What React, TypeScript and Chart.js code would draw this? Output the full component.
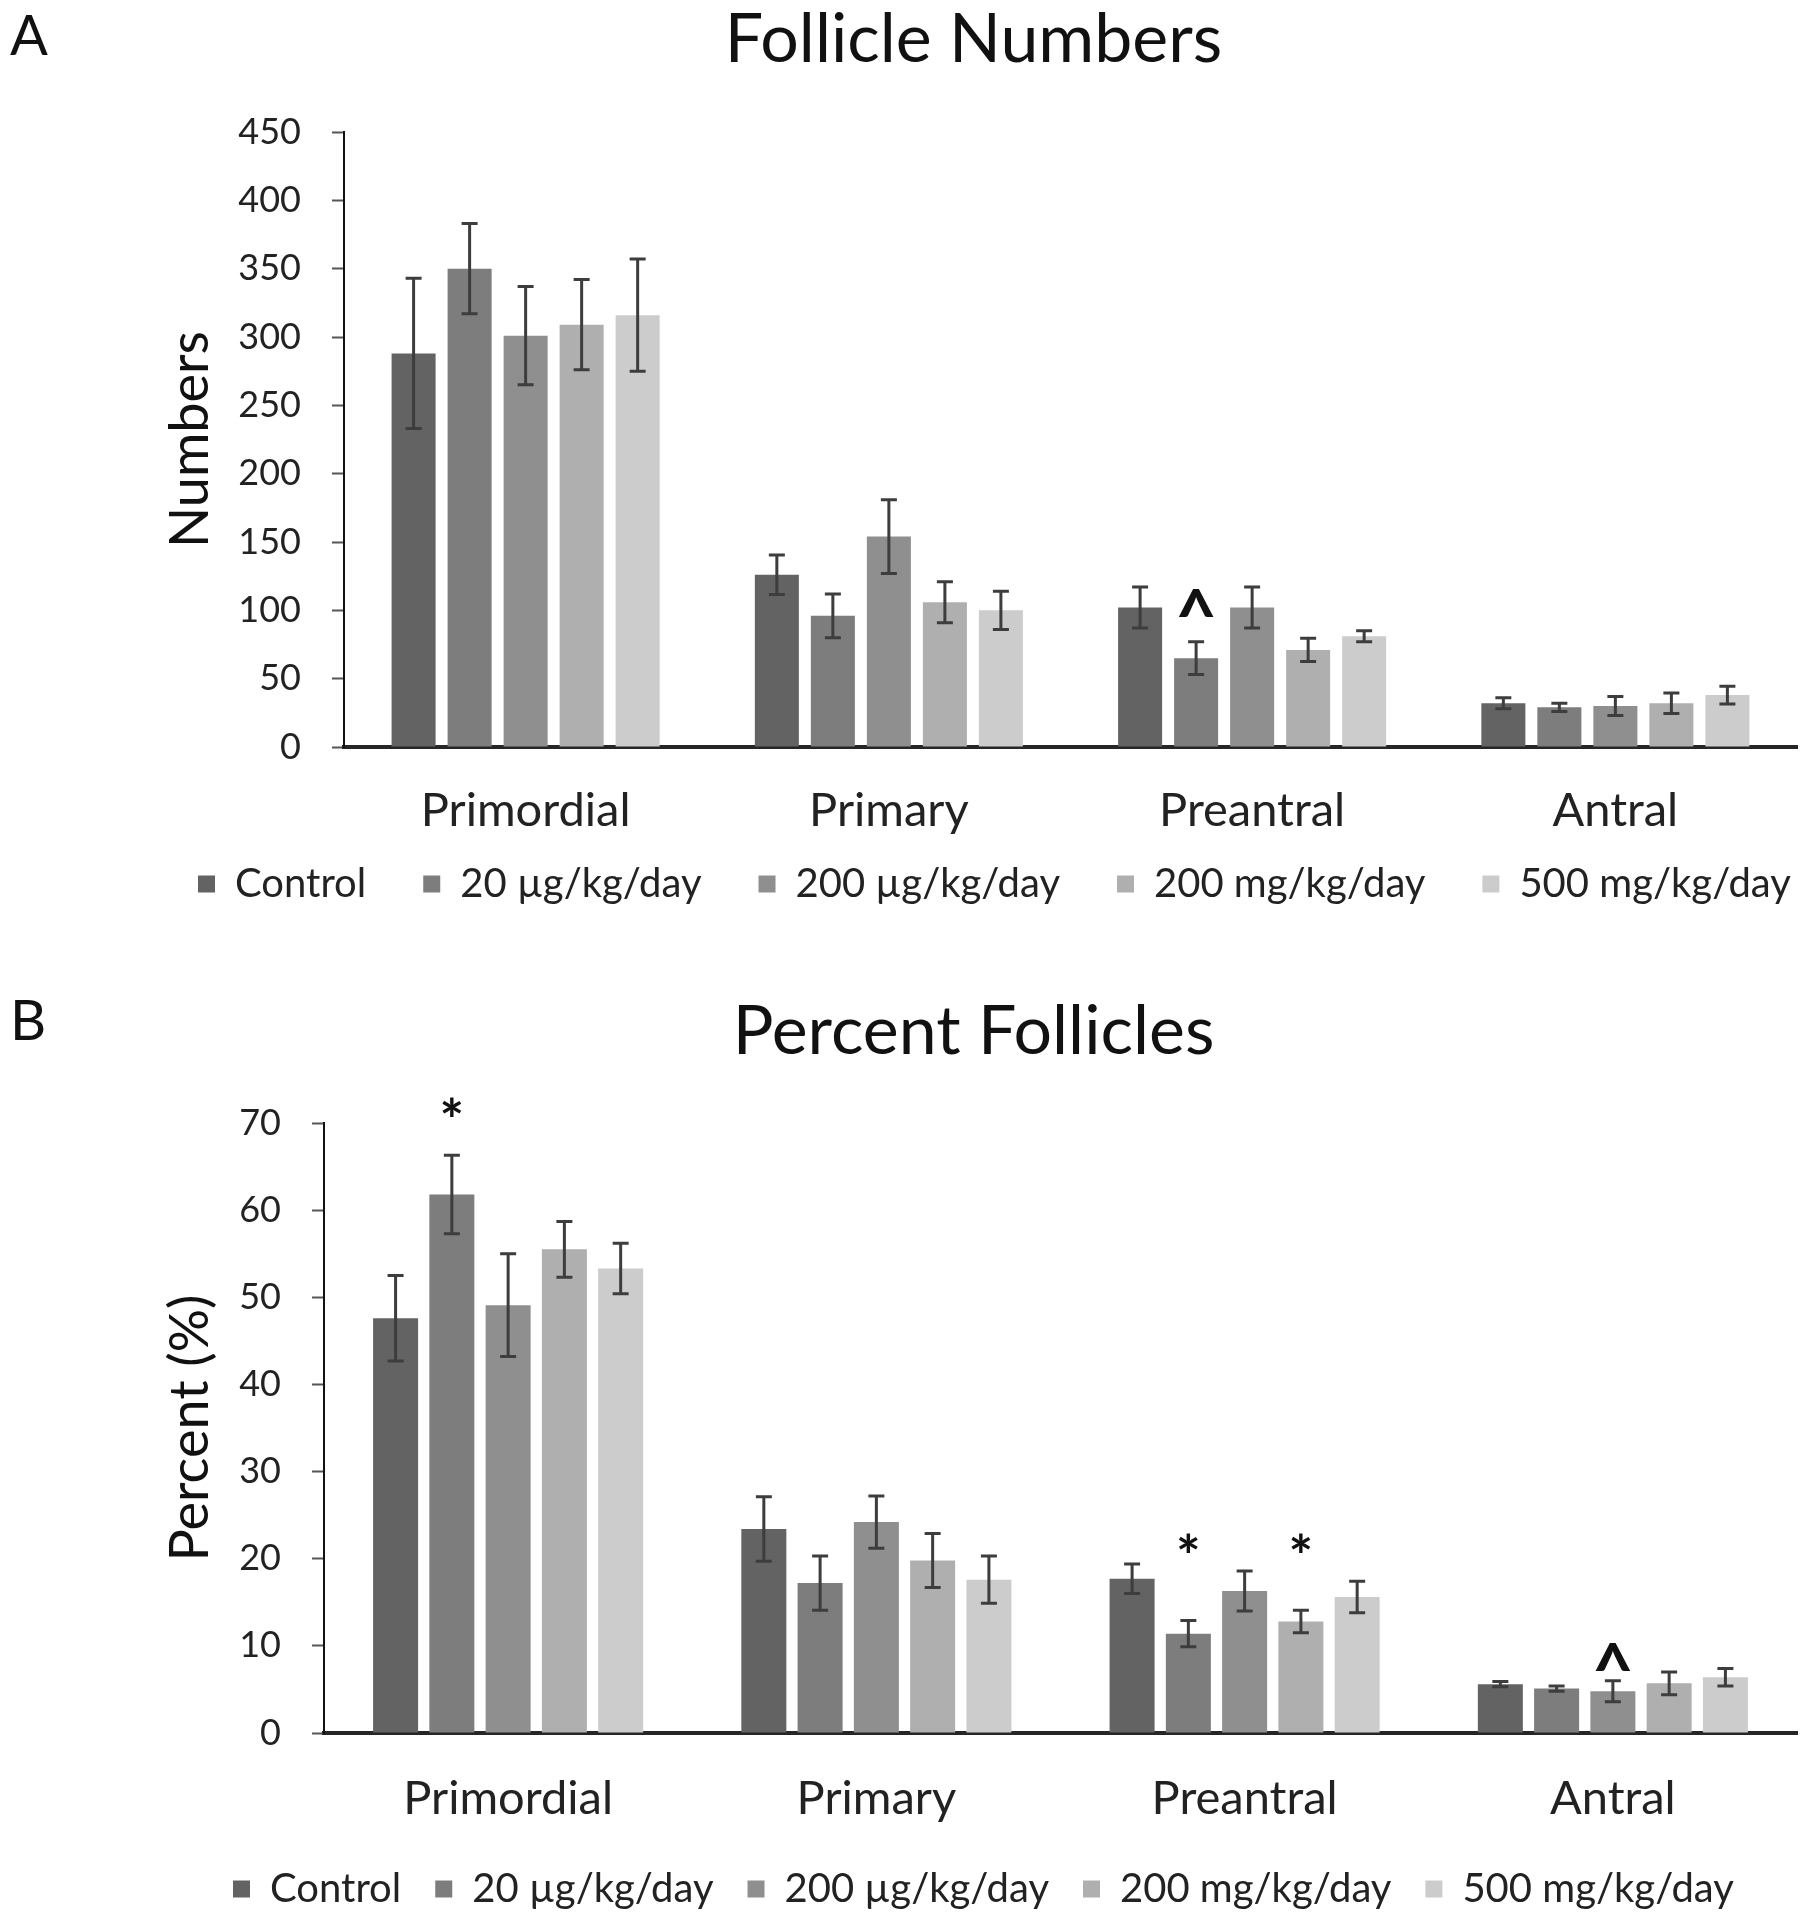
import React, { useEffect, useRef } from 'react';
import { Chart, registerables } from 'chart.js';

Chart.register(...registerables);

const FONT = 'Lato, "Liberation Sans", sans-serif';

// ---------- data ----------
const categories = ['Primordial', 'Primary', 'Preantral', 'Antral'];
const groups = ['Control', '20 µg/kg/day', '200 µg/kg/day', '200 mg/kg/day', '500 mg/kg/day'];
const groupColors = ['#636363', '#7d7d7d', '#8f8f8f', '#afafaf', '#cccccc'];

// Panel A – Follicle Numbers
const numbersTicks = [0, 50, 100, 150, 200, 250, 300, 350, 400, 450];
const numbersControl = [288, 126, 102, 32];
const numbers20ug = [350, 96, 65, 29];
const numbers200ug = [301, 154, 102, 30];
const numbers200mg = [309, 106, 71, 32];
const numbers500mg = [316, 100, 81, 38];
const numbersErrControl = [55, 14.5, 15, 4];
const numbersErr20ug = [33, 16, 12, 3];
const numbersErr200ug = [36, 27, 15, 7];
const numbersErr200mg = [33, 15, 8.5, 7.5];
const numbersErr500mg = [41, 14, 4, 6.5];
const numbersMarks = [{ category: 2, group: 1, symbol: '^', at: 104.6 }];

// Panel B – Percent Follicles
const percentTicks = [0, 10, 20, 30, 40, 50, 60, 70];
const percentControl = [47.6, 23.4, 17.7, 5.6];
const percent20ug = [61.8, 17.2, 11.4, 5.1];
const percent200ug = [49.1, 24.2, 16.3, 4.8];
const percent200mg = [55.5, 19.8, 12.8, 5.7];
const percent500mg = [53.3, 17.6, 15.6, 6.4];
const percentErrControl = [4.9, 3.7, 1.7, 0.3];
const percentErr20ug = [4.5, 3.1, 1.5, 0.3];
const percentErr200ug = [5.9, 3.0, 2.3, 1.2];
const percentErr200mg = [3.2, 3.1, 1.3, 1.3];
const percentErr500mg = [2.9, 2.7, 1.8, 1.0];
const percentMarks = [
  { category: 0, group: 1, symbol: '*', at: 71.3 },
  { category: 2, group: 1, symbol: '*', at: 21.2 },
  { category: 2, group: 3, symbol: '*', at: 21.2 },
  { category: 3, group: 2, symbol: '^', at: 8.6 },
];

// ---------- plugins ----------
const errorBarsPlugin = {
  id: 'errorBars',
  afterDatasetsDraw(chart: any, _args: any, opts: any) {
    const { ctx } = chart;
    const y = chart.scales.y;
    ctx.save();
    ctx.strokeStyle = opts.color;
    ctx.lineWidth = opts.width;
    chart.data.datasets.forEach((ds: any, di: number) => {
      const meta = chart.getDatasetMeta(di);
      meta.data.forEach((el: any, j: number) => {
        const v = ds.data[j];
        const e = ds.errors ? ds.errors[j] : 0;
        if (!e) return;
        const yt = y.getPixelForValue(v + e);
        const yb = y.getPixelForValue(v - e);
        const half = opts.cap / 2;
        ctx.beginPath();
        ctx.moveTo(el.x, yt);
        ctx.lineTo(el.x, yb);
        ctx.moveTo(el.x - half, yt);
        ctx.lineTo(el.x + half, yt);
        ctx.moveTo(el.x - half, yb);
        ctx.lineTo(el.x + half, yb);
        ctx.stroke();
      });
    });
    ctx.restore();
  },
};

const marksPlugin = {
  id: 'sigMarks',
  afterDatasetsDraw(chart: any, _args: any, opts: any) {
    const { ctx } = chart;
    const y = chart.scales.y;
    ctx.save();
    ctx.fillStyle = '#111';
    ctx.textAlign = 'center';
    ctx.textBaseline = 'middle';
    (opts.marks || []).forEach((m: any) => {
      const el = chart.getDatasetMeta(m.group).data[m.category];
      const size = m.symbol === '^' ? opts.caretSize : opts.starSize;
      ctx.font = `bold ${size}px ${FONT}`;
      const yy = y.getPixelForValue(m.at) + size * (m.symbol === '^' ? 0.2 : 0.18);
      ctx.fillText(m.symbol, el.x, yy);
    });
    ctx.restore();
  },
};

const panelLetterPlugin = {
  id: 'panelLetter',
  afterDraw(chart: any, _args: any, opts: any) {
    const { ctx } = chart;
    ctx.save();
    ctx.fillStyle = '#111';
    ctx.font = `${opts.size}px ${FONT}`;
    ctx.textAlign = 'left';
    ctx.textBaseline = 'alphabetic';
    ctx.fillText(opts.text, opts.x, opts.y);
    ctx.restore();
  },
};

// places legend & title boxes where the original figure has them
const placementPlugin = {
  id: 'placement',
  afterLayout(chart: any, _args: any, opts: any) {
    const lg = chart.legend;
    if (lg) {
      const pad = lg.options.labels.padding;
      const fs = lg.options.labels.font.size;
      const itemH = Math.max(fs, lg.options.labels.boxHeight || fs);
      const w = lg.right - lg.left;
      const h = lg.bottom - lg.top;
      lg.left = opts.legendX - pad;
      lg.right = lg.left + w;
      lg.top = opts.legendY - pad - itemH / 2;
      lg.bottom = lg.top + h;
    }
    const tb = chart.titleBlock;
    if (tb) {
      tb.left += opts.titleDx;
      tb.right += opts.titleDx;
    }
  },
};

// ---------- config ----------
type Panel = {
  letter: string;
  letterY: number;
  title: string;
  titlePad: { top: number; bottom: number };
  yTitle: string;
  yMax: number;
  yStep: number;
  yWidth: number;
  xHeight: number;
  xLabelPad: number;
  values: number[][];
  errors: number[][];
  marks: any[];
  legendX: number;
  legendY: number;
  legendPad: number;
  catPct: number;
  barPct: number;
};

function buildConfig(p: Panel): any {
  const datasets = groups.map((g, i) => ({
    label: g,
    data: p.values[i],
    errors: p.errors[i],
    backgroundColor: groupColors[i],
    borderWidth: 0,
    categoryPercentage: p.catPct,
    barPercentage: p.barPct,
  }));
  return {
    type: 'bar',
    data: { labels: categories, datasets },
    options: {
      responsive: false,
      animation: false,
      events: [],
      layout: { padding: { left: 0, right: 11, top: 0, bottom: 0 } },
      plugins: {
        tooltip: { enabled: false },
        title: {
          display: true,
          text: p.title,
          color: '#111',
          font: { family: FONT, size: 68, weight: 'normal', lineHeight: 1 },
          padding: p.titlePad,
        },
        legend: {
          position: 'bottom',
          align: 'start',
          labels: {
            color: '#222',
            font: { family: FONT, size: 40 },
            boxWidth: 17,
            boxHeight: 17,
            padding: p.legendPad,
          },
        },
        errorBars: { color: '#3d3d3d', width: 3, cap: 16 },
        sigMarks: { marks: p.marks, starSize: 58, caretSize: 72 },
        panelLetter: { text: p.letter, x: 10, y: p.letterY, size: 56 },
        placement: { legendX: p.legendX, legendY: p.legendY, titleDx: 75 },
      },
      scales: {
        x: {
          afterFit: (s: any) => { s.height = p.xHeight; },
          grid: { display: true, drawOnChartArea: false, drawTicks: false },
          border: { display: true, color: '#262626', width: 4 },
          ticks: {
            color: '#222',
            font: { family: FONT, size: 47, lineHeight: 1 },
            padding: p.xLabelPad,
          },
        },
        y: {
          min: 0,
          max: p.yMax,
          afterFit: (s: any) => { s.width = p.yWidth; },
          grid: { display: true, drawOnChartArea: false, drawTicks: true, tickLength: 12, tickColor: '#555', tickWidth: 2 },
          border: { display: true, color: '#111', width: 2 },
          ticks: {
            stepSize: p.yStep,
            color: '#222',
            font: { family: FONT, size: 36 },
            padding: 31,
          },
          title: {
            display: true,
            text: p.yTitle,
            color: '#111',
            font: { family: FONT, size: 54, lineHeight: 1 },
            padding: { top: 164, bottom: 0 },
          },
        },
      },
    },
    plugins: [errorBarsPlugin, marksPlugin, panelLetterPlugin, placementPlugin],
  };
}

const panelA: Panel = {
  letter: 'A',
  letterY: 55,
  title: 'Follicle Numbers',
  titlePad: { top: 6, bottom: 58 },
  yTitle: 'Numbers',
  yMax: numbersTicks[numbersTicks.length - 1],
  yStep: numbersTicks[1] - numbersTicks[0],
  yWidth: 344,
  xHeight: 95,
  xLabelPad: 40,
  values: [numbersControl, numbers20ug, numbers200ug, numbers200mg, numbers500mg],
  errors: [numbersErrControl, numbersErr20ug, numbersErr200ug, numbersErr200mg, numbersErr500mg],
  marks: numbersMarks,
  legendX: 198,
  legendY: 884,
  legendPad: 57,
  catPct: 0.771,
  barPct: 0.786,
};

const panelB: Panel = {
  letter: 'B',
  letterY: 126,
  title: 'Percent Follicles',
  titlePad: { top: 84, bottom: 57 },
  yTitle: 'Percent (%)',
  yMax: percentTicks[percentTicks.length - 1],
  yStep: percentTicks[1] - percentTicks[0],
  yWidth: 324,
  xHeight: 103,
  xLabelPad: 42,
  values: [percentControl, percent20ug, percent200ug, percent200mg, percent500mg],
  errors: [percentErrControl, percentErr20ug, percentErr200ug, percentErr200mg, percentErr500mg],
  marks: percentMarks,
  legendX: 233,
  legendY: 975,
  legendPad: 34,
  catPct: 0.764,
  barPct: 0.8,
};

function ChartPanel({ top, height, panel }: { top: number; height: number; panel: Panel }) {
  const ref = useRef<HTMLCanvasElement>(null);
  useEffect(() => {
    const chart = new Chart(ref.current as HTMLCanvasElement, buildConfig(panel));
    return () => chart.destroy();
  }, [panel]);
  return (
    <div style={{ position: 'absolute', left: 0, top, width: 1808, height }}>
      <canvas ref={ref} width={1808} height={height} style={{ display: 'block', width: 1808, height }} />
    </div>
  );
}

export default function App() {
  return (
    <div style={{ position: 'relative', width: 1808, height: 1920 }}>
      <div style={{ position: 'absolute', left: -8, top: -8, width: 1808, height: 1920 }}>
        <ChartPanel top={0} height={949} panel={panelA} />
        <ChartPanel top={914} height={1006} panel={panelB} />
      </div>
    </div>
  );
}
